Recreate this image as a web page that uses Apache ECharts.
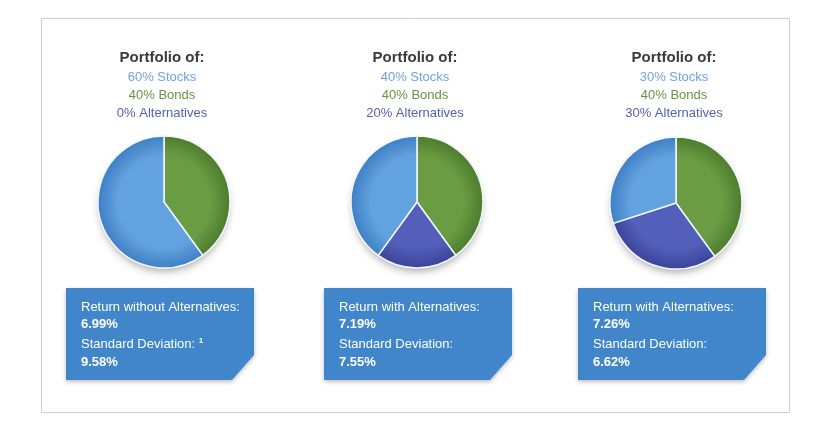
<!DOCTYPE html>
<html>
<head>
<meta charset="utf-8">
<script src="https://cdn.jsdelivr.net/npm/echarts@6/dist/echarts.min.js"></script>
<style>
  html, body { margin: 0; padding: 0; background: #fff; }
  #chart { width: 830px; height: 442px; }
</style>
</head>
<body>
<div id="chart"></div>
<script>
// portfolio mixes (%)
const stocks = [60, 40, 30]
const bonds = [40, 40, 40]
const alternatives = [0, 20, 30]
const returnLabels = ['Return without Alternatives:', 'Return with Alternatives:', 'Return with Alternatives:']
const returnValues = ['6.99%', '7.19%', '7.26%']
const stdDevValues = ['9.58%', '7.55%', '6.62%']
const stdDevNotes = ['1', '', '']

// layout
const centers = [[164, 202], [417, 202], [676, 203]]
const radius = 66
const boxLeft = [66, 324, 578]
const boxTop = 288
const boxW = 188
const boxH = 92
const FONT = 'Liberation Sans, Arial, sans-serif'

const colors = {
  stocks: ['#62a2de', '#3f7fc6'],
  bonds: ['#6a9c43', '#4d7c2e'],
  alts: ['#535fba', '#3a4499']
}

function radial(cx, cy, c) {
  return {
    type: 'radial', x: cx, y: cy, r: radius, global: true,
    colorStops: [{ offset: 0, color: c[0] }, { offset: 0.7, color: c[0] }, { offset: 1, color: c[1] }]
  }
}

const myChart = echarts.init(document.getElementById('chart'), null, { renderer: 'canvas' })

const series = []
const graphic = [{
  type: 'rect', shape: { x: 41.5, y: 18.5, width: 748, height: 394 },
  style: { fill: '#fff', stroke: '#cfcfcf', lineWidth: 1 }, z: -10
}]

centers.forEach(([cx, cy], i) => {
  const data = [
    { name: 'Bonds', value: bonds[i], itemStyle: { color: radial(cx, cy, colors.bonds) } },
    { name: 'Alternatives', value: alternatives[i], itemStyle: { color: radial(cx, cy, colors.alts) } },
    { name: 'Stocks', value: stocks[i], itemStyle: { color: radial(cx, cy, colors.stocks) } }
  ]
  // soft shadow beneath the pie
  series.push({
    type: 'pie', silent: true, center: [cx, cy], radius: radius - 2, startAngle: 90,
    label: { show: false }, z: 1, animation: false,
    data: [{ value: 1, itemStyle: { color: '#fff', shadowBlur: 8, shadowOffsetY: 5, shadowColor: 'rgba(0,0,0,0.35)' } }]
  })
  series.push({
    type: 'pie', center: [cx, cy], radius: radius, startAngle: 90, clockwise: true,
    minAngle: 0, stillShowZeroSum: false, z: 2, animation: false,
    label: { show: false }, labelLine: { show: false },
    itemStyle: { borderColor: '#f4f8fc', borderWidth: 1.5 },
    data: data.filter(d => d.value > 0)
  })

  const tx = cx - 2
  graphic.push(
    { type: 'text', x: tx, y: 58, style: { text: 'Portfolio of:', font: 'bold 15px ' + FONT, fill: '#3a3a3a', align: 'center', verticalAlign: 'middle' } },
    { type: 'text', x: tx, y: 77, style: { text: stocks[i] + '% Stocks', font: '13px ' + FONT, fill: '#6fa3dc', align: 'center', verticalAlign: 'middle' } },
    { type: 'text', x: tx, y: 95, style: { text: bonds[i] + '% Bonds', font: '13px ' + FONT, fill: '#6b9142', align: 'center', verticalAlign: 'middle' } },
    { type: 'text', x: tx, y: 113, style: { text: alternatives[i] + '% Alternatives', font: '13px ' + FONT, fill: '#5660ad', align: 'center', verticalAlign: 'middle' } }
  )

  // result box with clipped corner
  const x0 = boxLeft[i], y0 = boxTop
  graphic.push({
    type: 'polygon',
    shape: { points: [[x0, y0], [x0 + boxW, y0], [x0 + boxW, y0 + boxH - 25], [x0 + boxW - 22, y0 + boxH], [x0, y0 + boxH]] },
    style: { fill: '#4185cb', shadowBlur: 4, shadowOffsetY: 2, shadowColor: 'rgba(0,0,0,0.25)' }
  })
  const lx = x0 + 15
  graphic.push(
    { type: 'text', x: lx, y: 307, style: { text: returnLabels[i], font: '13px ' + FONT, fill: '#fff', verticalAlign: 'middle' } },
    { type: 'text', x: lx, y: 324, style: { text: returnValues[i], font: 'bold 13px ' + FONT, fill: '#fff', verticalAlign: 'middle' } },
    {
      type: 'text', x: lx, y: 344,
      style: {
        text: '{t|Standard Deviation:}' + (stdDevNotes[i] ? ' {s|' + stdDevNotes[i] + '}' : ''),
        font: '13px ' + FONT, fill: '#fff', verticalAlign: 'middle',
        rich: {
          t: { font: '13px ' + FONT, fill: '#fff' },
          s: { font: 'bold 8px ' + FONT, fill: '#fff', verticalAlign: 'top', padding: [0, 0, 6, 0] }
        }
      }
    },
    { type: 'text', x: lx, y: 362, style: { text: stdDevValues[i], font: 'bold 13px ' + FONT, fill: '#fff', verticalAlign: 'middle' } }
  )
})

myChart.setOption({
  backgroundColor: '#fff',
  animation: false,
  series,
  graphic
})
</script>
</body>
</html>
